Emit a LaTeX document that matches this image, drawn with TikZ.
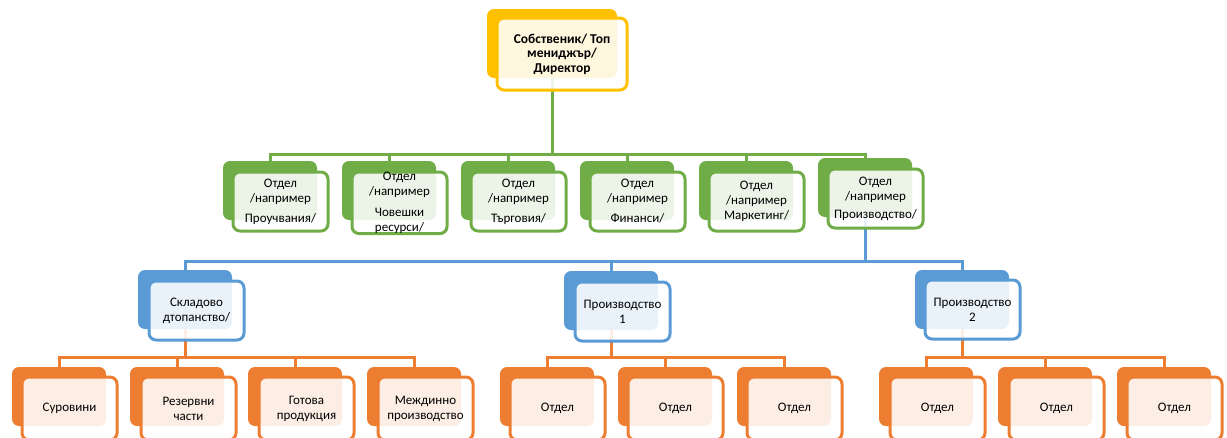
\documentclass[tikz,border=0pt]{standalone}
\usepackage{fontspec}
\setmainfont{Carlito}
\usetikzlibrary{backgrounds}
\definecolor{cgold}{HTML}{FFC000}
\definecolor{cgreen}{HTML}{70AD47}
\definecolor{cblue}{HTML}{5B9BD5}
\definecolor{corange}{HTML}{ED7D31}
\tikzset{
  backbox/.style={rectangle, rounded corners=7pt, fill=#1, inner sep=0pt, outer sep=0pt,
    anchor=north west, minimum width=94pt, minimum height=59pt},
  frontbox/.style={rectangle, rounded corners=7pt, draw=#1, line width=3pt, fill=white,
    fill opacity=0.87, text opacity=1, inner sep=0pt, outer sep=0pt, anchor=north west,
    minimum width=95pt, minimum height=59pt, align=center,
    font=\fontsize{13}{15}\selectfont, text=black},
  lowbox/.style={frontbox=#1, minimum height=63pt},
  conn/.style={draw=#1, line width=3pt},
}
\begin{document}
\begin{tikzpicture}[x=1pt,y=-1pt]
\useasboundingbox (0,0) rectangle (1227,437);
% top
\node[backbox=cgold, minimum width=130pt, minimum height=69pt] (tb) at (487,9) {};
\node[frontbox=cgold, minimum width=130pt, minimum height=72pt, font=\fontsize{13.5}{14.5}\selectfont\bfseries] (t) at (497,18)
  {Собственик/ Топ\\мениджър/\\Директор};
% green level
\node[backbox=cgreen] (g1b) at (223,161) {};
\node[frontbox=cgreen] (g1) at (233,172) {Отдел\\/например\\[5pt]Проучвания/};
\node[backbox=cgreen] (g2b) at (342,161) {};
\node[frontbox=cgreen] (g2) at (352,172) {Отдел\\/например\\[6pt]Човешки\\ресурси/};
\node[backbox=cgreen] (g3b) at (461,161) {};
\node[frontbox=cgreen] (g3) at (471,172) {Отдел\\/например\\[5pt]Търговия/};
\node[backbox=cgreen] (g4b) at (580,161) {};
\node[frontbox=cgreen] (g4) at (590,172) {Отдел\\/например\\[5pt]Финанси/};
\node[backbox=cgreen] (g5b) at (699,161) {};
\node[frontbox=cgreen] (g5) at (709,172) {Отдел\\/например\\Маркетинг/};
\node[backbox=cgreen] (g6b) at (818,158) {};
\node[frontbox=cgreen] (g6) at (828,169) {Отдел\\/например\\[3pt]Производство/};
% blue level
\node[backbox=cblue] (b1b) at (138,270) {};
\node[frontbox=cblue] (b1) at (149,281) {Складово\\дтопанство/};
\node[backbox=cblue] (b2b) at (564,271) {};
\node[frontbox=cblue] (b2) at (575,282) {Производство\\1};
\node[backbox=cblue] (b3b) at (915,270) {};
\node[frontbox=cblue] (b3) at (925,280) {Производство\\2};
% orange level
\node[backbox=corange] (o1b) at (12,367) {};
\node[lowbox=corange] (o1) at (22,377) {Суровини};
\node[backbox=corange] (o2b) at (130,367) {};
\node[lowbox=corange] (o2) at (141,377) {Резервни\\части};
\node[backbox=corange] (o3b) at (248,367) {};
\node[lowbox=corange] (o3) at (259,377) {Готова\\продукция};
\node[backbox=corange] (o4b) at (367,367) {};
\node[lowbox=corange] (o4) at (378,377) {Междинно\\производство};
\node[backbox=corange] (o5b) at (500,367) {};
\node[lowbox=corange] (o5) at (510,377) {Отдел};
\node[backbox=corange] (o6b) at (618,367) {};
\node[lowbox=corange] (o6) at (628,377) {Отдел};
\node[backbox=corange] (o7b) at (737,367) {};
\node[lowbox=corange] (o7) at (747,377) {Отдел};
\node[backbox=corange] (o8b) at (879,367) {};
\node[lowbox=corange] (o8) at (890,377) {Отдел};
\node[backbox=corange] (o9b) at (998,367) {};
\node[lowbox=corange] (o9) at (1009,377) {Отдел};
\node[backbox=corange] (o10b) at (1117,367) {};
\node[lowbox=corange] (o10) at (1127,377) {Отдел};
\coordinate (busG) at (0,154);
\coordinate (busB) at (0,261);
\coordinate (busO) at (0,357);
\begin{scope}[on background layer]
\fill[white] (0,0) rectangle (1227,437);
\foreach \c in {g1b,g2b,g3b,g4b,g5b,g6b}
  \draw[conn=cgreen] (tb.south) -- (tb.south |- busG) -| (\c.north);
\foreach \c in {b1b,b2b,b3b}
  \draw[conn=cblue] (g6b.south) -- (g6b.south |- busB) -| (\c.north);
\foreach \c in {o1b,o2b,o3b,o4b}
  \draw[conn=corange] (b1b.south) -- (b1b.south |- busO) -| (\c.north);
\foreach \c in {o5b,o6b,o7b}
  \draw[conn=corange] (b2b.south) -- (b2b.south |- busO) -| (\c.north);
\foreach \c in {o8b,o9b,o10b}
  \draw[conn=corange] (b3b.south) -- (b3b.south |- busO) -| (\c.north);
\end{scope}
\end{tikzpicture}
\end{document}
